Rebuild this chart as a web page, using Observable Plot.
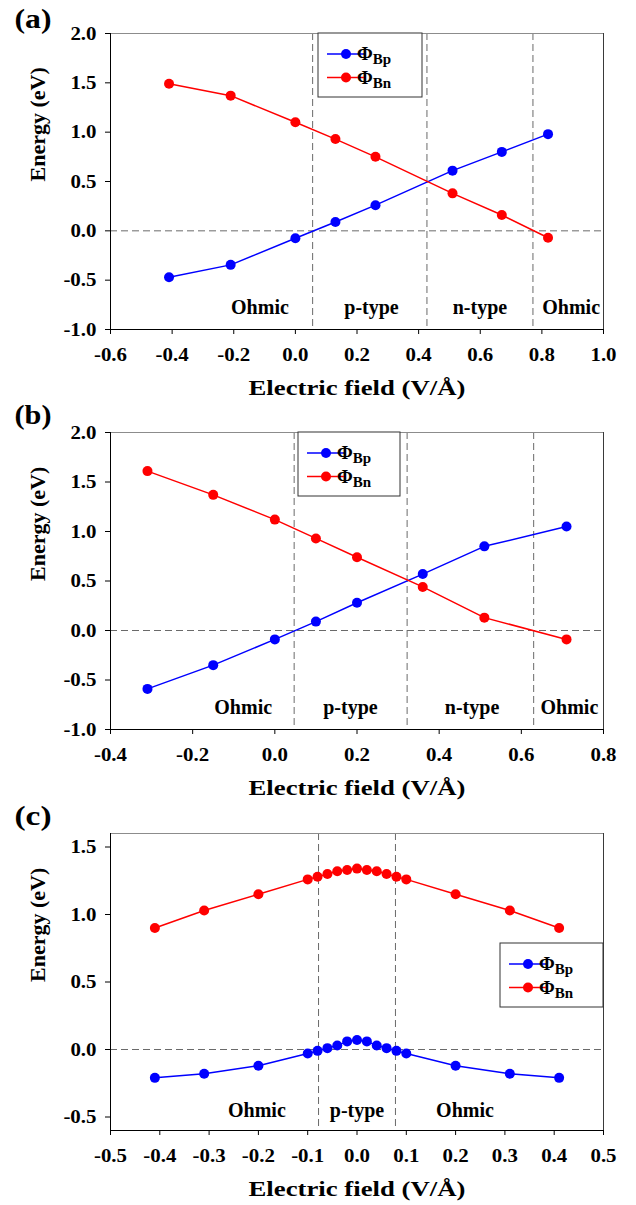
<!DOCTYPE html>
<html><head><meta charset="utf-8">
<script src="https://cdn.jsdelivr.net/npm/d3@7"></script>
<script src="https://cdn.jsdelivr.net/npm/@observablehq/plot@0.6"></script>
<style>
body{margin:0;background:#fff;}
#chart{position:relative;width:636px;height:1205px;overflow:hidden;}
#chart svg{position:absolute;left:0;}
</style></head><body><div id="chart"></div>
<script>
const FONT = "'Liberation Serif','Times New Roman',serif";

// ---------- panel (a) ----------
const aField = [-0.41, -0.21, 0.0, 0.13, 0.26, 0.51, 0.67, 0.82];
const aBp    = [-0.47, -0.345, -0.075, 0.09, 0.26, 0.61, 0.80, 0.98];
const aBn    = [1.49, 1.37, 1.10, 0.93, 0.75, 0.38, 0.16, -0.07];
const aBounds = [0.056, 0.427, 0.771];
const aRegionText = ["Ohmic", "p-type", "n-type", "Ohmic"];
const aRegionX = [-0.115, 0.247, 0.599, 0.895];
const aXTicks = [-0.6, -0.4, -0.2, 0.0, 0.2, 0.4, 0.6, 0.8, 1.0];
const aYTicks = [-1.0, -0.5, 0.0, 0.5, 1.0, 1.5, 2.0];

// ---------- panel (b) ----------
const bField = [-0.31, -0.15, 0.0, 0.10, 0.20, 0.36, 0.51, 0.71];
const bBp    = [-0.59, -0.35, -0.09, 0.09, 0.28, 0.57, 0.85, 1.05];
const bBn    = [1.61, 1.37, 1.12, 0.93, 0.74, 0.44, 0.13, -0.09];
const bBounds = [0.047, 0.322, 0.63];
const bRegionText = ["Ohmic", "p-type", "n-type", "Ohmic"];
const bRegionX = [-0.077, 0.184, 0.48, 0.717];
const bXTicks = [-0.4, -0.2, 0.0, 0.2, 0.4, 0.6, 0.8];
const bYTicks = [-1.0, -0.5, 0.0, 0.5, 1.0, 1.5, 2.0];

// ---------- panel (c) ----------
const cField = [-0.41, -0.31, -0.2, -0.1, -0.08, -0.06, -0.04, -0.02, 0.0, 0.02, 0.04, 0.06, 0.08, 0.1, 0.2, 0.31, 0.41];
const cBp    = [-0.21, -0.18, -0.12, -0.03, -0.01, 0.01, 0.03, 0.06, 0.07, 0.06, 0.03, 0.01, -0.01, -0.03, -0.12, -0.18, -0.21];
const cBn    = [0.90, 1.03, 1.15, 1.26, 1.28, 1.30, 1.32, 1.33, 1.34, 1.33, 1.32, 1.30, 1.28, 1.26, 1.15, 1.03, 0.90];
const cBounds = [-0.078, 0.078];
const cRegionText = ["Ohmic", "p-type", "Ohmic"];
const cRegionX = [-0.203, 0.0, 0.219];
const cXTicks = [-0.5, -0.4, -0.3, -0.2, -0.1, 0.0, 0.1, 0.2, 0.3, 0.4, 0.5];
const cYTicks = [-0.5, 0.0, 0.5, 1.0, 1.5];

const seriesNames = ["Bp", "Bn"];
const seriesColors = ["#0000ff", "#ff0000"];
const xTitle = "Electric field (V/Å)";
const yTitle = "Energy (eV)";

const chart = document.getElementById("chart");
const W = 636, ML = 110, MR = 33;

function build(o) {
  const rows = o.field.map((f, i) => ({f, bp: o.bp[i], bn: o.bn[i]}));
  const fmt = d => d.toFixed(1);
  const dash = {stroke: "#6a6a6a", strokeWidth: 1, strokeDasharray: "7,4"};
  const plot = Plot.plot({
    width: W, height: o.h,
    marginLeft: ML, marginRight: MR, marginTop: o.mt, marginBottom: o.mb,
    style: {fontFamily: FONT, background: "transparent", overflow: "visible", color: "#000"},
    x: {domain: o.xDomain},
    y: {domain: o.yDomain},
    marks: [
      Plot.ruleY([0], dash),
      Plot.ruleX(o.bounds, dash),
      Plot.ruleY([o.yDomain[1]], {stroke: "#8c8c8c"}),
      Plot.ruleX([o.xDomain[1]], {stroke: "#3a3a3a"}),
      Plot.ruleX([o.xDomain[0]], {stroke: "#000"}),
      Plot.ruleY([o.yDomain[0]], {stroke: "#000"}),
      Plot.axisX(o.xTicks, {tickSize: 5, tickPadding: 13, tickFormat: fmt, fontSize: 19, fontWeight: "bold", label: null}),
      Plot.axisY(o.yTicks, {tickSize: 5, tickPadding: 9, tickFormat: fmt, fontSize: 19, fontWeight: "bold", label: null}),
      Plot.line(rows, {x: "f", y: "bp", stroke: seriesColors[0], strokeWidth: 1.5}),
      Plot.line(rows, {x: "f", y: "bn", stroke: seriesColors[1], strokeWidth: 1.5}),
      Plot.dot(rows, {x: "f", y: "bp", r: 5, fill: seriesColors[0]}),
      Plot.dot(rows, {x: "f", y: "bn", r: 5, fill: seriesColors[1]}),
      Plot.text(o.regionText, {x: o.regionX, y: o.regionY, fontSize: 20, fontWeight: "bold"}),
      Plot.text([xTitle], {frameAnchor: "bottom", dy: 65, lineAnchor: "bottom", fontSize: 20, fontWeight: "bold"}),
      Plot.text([yTitle], {frameAnchor: "left", dx: -73, rotate: -90, fontSize: 22, fontWeight: "bold"}),
      Plot.text([o.label], {frameAnchor: "top-left", dx: -96, dy: o.labelDy, textAnchor: "start", lineAnchor: "bottom", fontSize: 27, fontWeight: "bold"})
    ]
  });
  plot.style.top = o.top + "px";
  chart.appendChild(plot);

  // legend box
  const svg = d3.select(plot);
  const lx = ML + o.legend[0], ly = o.mt + o.legend[1];
  const g = svg.append("g").attr("transform", `translate(${lx},${ly})`);
  g.append("rect").attr("x", 0).attr("y", 0).attr("width", o.legend[2]).attr("height", 64)
    .attr("fill", "#fff").attr("stroke", "#333").attr("stroke-width", 1);
  seriesNames.forEach((nm, i) => {
    const yy = 21 + i * 23.5;
    g.append("line").attr("x1", 9).attr("x2", 47).attr("y1", yy).attr("y2", yy)
      .attr("stroke", seriesColors[i]).attr("stroke-width", 1.5);
    g.append("circle").attr("cx", 28).attr("cy", yy).attr("r", 5).attr("fill", seriesColors[i]);
    const t = g.append("text").attr("x", 56).attr("y", yy + 6)
      .attr("font-family", FONT).attr("font-size", 19).attr("font-weight", "bold").attr("fill", "#000");
    t.append("tspan").text("Φ");
    t.append("tspan").attr("dy", 4).attr("font-size", 15).text(nm);
  });

  // tick labels: explicit size, slight horizontal stretch; titles stretched to reference widths
  plot.querySelectorAll("text").forEach(t => {
    const s = t.textContent;
    let target = null;
    if (/^-?\d\.\d$/.test(s)) {
      t.style.fontSize = "19px";
      t.style.fontWeight = "bold";
      target = t.getComputedTextLength() * 1.1;
    } else if (s === xTitle) target = 217;
    else if (/^\([abc]\)$/.test(s)) target = 37;
    if (target && t.getComputedTextLength() > 0) {
      t.setAttribute("textLength", target.toFixed(1));
      t.setAttribute("lengthAdjust", "spacingAndGlyphs");
    }
  });
}

build({field: aField, bp: aBp, bn: aBn, bounds: aBounds, regionText: aRegionText, regionX: aRegionX, regionY: -0.78,
  xDomain: [-0.6, 1.0], yDomain: [-1.0, 2.0], xTicks: aXTicks, yTicks: aYTicks,
  top: 0, h: 400, mt: 33, mb: 71, label: "(a)", labelDy: -6, legend: [208, 0, 104]});
build({field: bField, bp: bBp, bn: bBn, bounds: bBounds, regionText: bRegionText, regionX: bRegionX, regionY: -0.78,
  xDomain: [-0.4, 0.8], yDomain: [-1.0, 2.0], xTicks: bXTicks, yTicks: bYTicks,
  top: 398, h: 400, mt: 34, mb: 69, label: "(b)", labelDy: -9, legend: [188, 0, 102]});
build({field: cField, bp: cBp, bn: cBn, bounds: cBounds, regionText: cRegionText, regionX: cRegionX, regionY: -0.45,
  xDomain: [-0.5, 0.5], yDomain: [-0.6, 1.6], xTicks: cXTicks, yTicks: cYTicks,
  top: 780, h: 425, mt: 53, mb: 75, label: "(c)", labelDy: -9, legend: [390, 110, 103]});
</script></body></html>
